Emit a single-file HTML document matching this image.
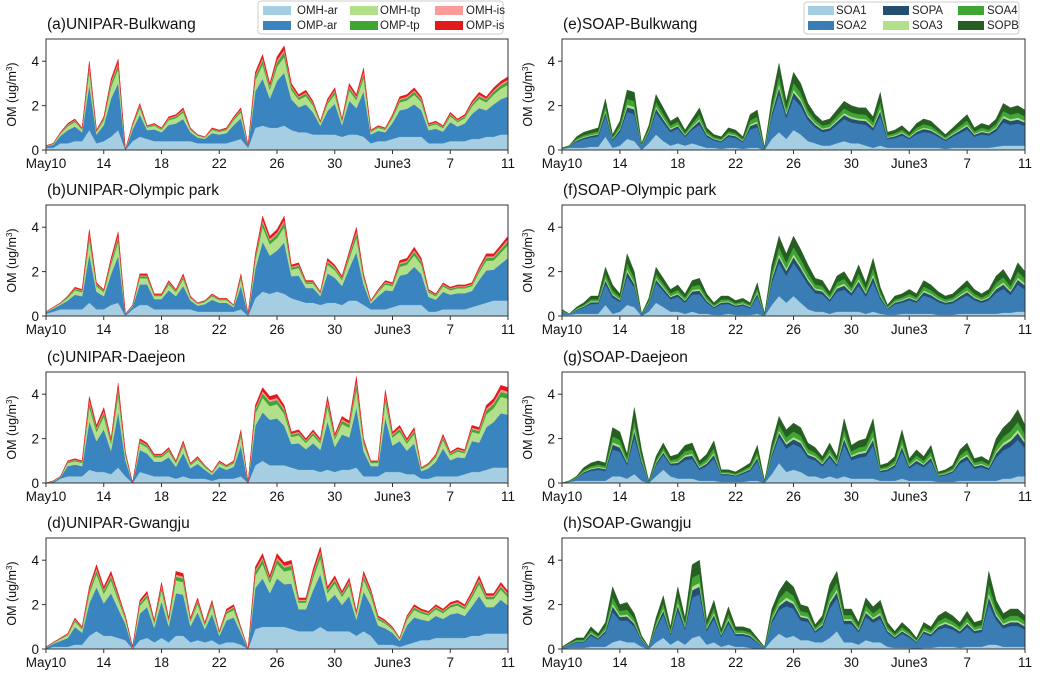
<!DOCTYPE html>
<html><head><meta charset="utf-8">
<style>
html,body{margin:0;padding:0;background:#fff;}
svg{display:block;font-family:"Liberation Sans",sans-serif;}
</style></head>
<body>
<svg id="fig" width="1045" height="683" viewBox="0 0 1045 683" xmlns="http://www.w3.org/2000/svg">
<g>
<rect x="258" y="1" width="245" height="33" rx="3" fill="#fff" stroke="#ccc"/>
<rect x="263" y="6" width="28" height="9" fill="#a6cee3"/><text x="297" y="14" font-size="11.5" fill="#222">OMH-ar</text>
<rect x="263" y="21" width="28" height="9" fill="#3a85bf"/><text x="297" y="29" font-size="11.5" fill="#222">OMP-ar</text>
<rect x="350" y="6" width="28" height="9" fill="#b2df8a"/><text x="380" y="14" font-size="11.5" fill="#222">OMH-tp</text>
<rect x="350" y="21" width="28" height="9" fill="#3fa535"/><text x="380" y="29" font-size="11.5" fill="#222">OMP-tp</text>
<rect x="435" y="6" width="28" height="9" fill="#fb9a99"/><text x="466" y="14" font-size="11.5" fill="#222">OMH-is</text>
<rect x="435" y="21" width="28" height="9" fill="#e31a1c"/><text x="466" y="29" font-size="11.5" fill="#222">OMP-is</text>
</g>
<g>
<rect x="804" y="2" width="215" height="32" rx="3" fill="#fff" stroke="#ccc"/>
<rect x="808" y="6" width="26" height="9" fill="#a6cee3"/><text x="836" y="14" font-size="11.5" fill="#222">SOA1</text>
<rect x="808" y="21" width="26" height="9" fill="#3a7db5"/><text x="836" y="29" font-size="11.5" fill="#222">SOA2</text>
<rect x="883" y="6" width="26" height="9" fill="#244f73"/><text x="912" y="14" font-size="11.5" fill="#222">SOPA</text>
<rect x="883" y="21" width="26" height="9" fill="#b2df8a"/><text x="912" y="29" font-size="11.5" fill="#222">SOA3</text>
<rect x="958" y="6" width="26" height="9" fill="#3fa535"/><text x="987" y="14" font-size="11.5" fill="#222">SOA4</text>
<rect x="958" y="21" width="26" height="9" fill="#275e22"/><text x="987" y="29" font-size="11.5" fill="#222">SOPB</text>
</g>
</svg>
<script>
// ---- data (values in ug/m3, half-day steps from May10 to June11) ----
const tickLabels = ["May10","14","18","22","26","30","June3","7","11"];
const tickDays = [0,4,8,12,16,20,24,28,32];
const yTicks = [0,2,4];
const titles = ["(a)UNIPAR-Bulkwang","(b)UNIPAR-Olympic park","(c)UNIPAR-Daejeon","(d)UNIPAR-Gwangju","(e)SOAP-Bulkwang","(f)SOAP-Olympic park","(g)SOAP-Daejeon","(h)SOAP-Gwangju"];
const uniparSeries = ["OMH-ar","OMP-ar","OMH-tp","OMP-tp","OMH-is","OMP-is"];
const soapSeries = ["SOA1","SOA2","SOPA","SOA3","SOA4","SOPB"];
const uniparShares = [0.66,0.2,0.06,0.03,0.05];
const soapShares = [0.55,0.1,0.05,0.12,0.18];
const totalA = [0.2,0.3,0.8,1.2,1.4,1.0,4.0,0.9,1.5,3.2,4.1,0.0,1.2,2.1,1.1,1.2,1.0,1.5,1.6,1.9,1.0,0.7,0.6,1.0,0.9,1.0,1.5,1.9,0.2,3.5,4.3,3.0,4.2,4.7,3.0,2.5,2.7,2.2,1.3,2.3,2.8,1.4,3.0,2.5,3.7,0.9,1.1,1.0,1.6,2.4,2.5,2.8,2.4,1.2,1.3,1.1,1.7,1.4,1.6,2.2,2.6,2.4,2.8,3.1,3.3];
const baseA = [0.1,0.1,0.3,0.3,0.4,0.4,0.9,0.3,0.4,0.6,0.9,0.0,0.4,0.6,0.5,0.4,0.4,0.4,0.4,0.4,0.4,0.3,0.3,0.3,0.3,0.3,0.4,0.5,0.1,1.0,1.1,1.0,1.0,1.1,0.9,0.8,0.8,0.7,0.7,0.7,0.7,0.6,0.7,0.7,0.6,0.3,0.4,0.4,0.5,0.6,0.6,0.6,0.6,0.3,0.3,0.3,0.4,0.4,0.4,0.5,0.5,0.6,0.6,0.7,0.7];
const totalB = [0.2,0.4,0.6,0.9,1.3,1.2,3.9,1.5,1.2,2.6,3.8,0.1,0.5,1.9,1.9,1.0,1.0,1.6,1.2,1.9,0.9,0.6,0.7,1.0,0.8,0.8,0.5,1.9,0.1,2.8,4.5,3.6,3.9,4.5,2.3,2.4,1.6,1.6,1.1,2.6,2.3,1.8,2.9,4.0,1.9,0.7,1.2,1.6,1.5,2.5,2.6,3.1,2.6,1.2,1.0,1.5,1.3,1.4,1.4,1.5,2.2,2.8,2.8,3.2,3.6];
const baseB = [0.1,0.2,0.3,0.3,0.3,0.3,0.6,0.3,0.3,0.5,0.6,0.0,0.3,0.5,0.5,0.3,0.3,0.3,0.3,0.3,0.3,0.2,0.2,0.2,0.2,0.2,0.2,0.3,0.0,0.8,1.1,1.0,1.1,1.0,0.8,0.7,0.6,0.6,0.5,0.6,0.6,0.5,0.7,0.7,0.5,0.3,0.3,0.3,0.4,0.5,0.5,0.5,0.5,0.2,0.2,0.3,0.3,0.3,0.3,0.4,0.5,0.6,0.7,0.7,0.7];
const totalC = [0.0,0.1,0.3,1.0,1.1,1.0,3.9,2.6,3.4,2.0,4.5,1.4,0.0,2.0,1.8,1.3,1.3,1.6,1.0,1.9,0.9,1.2,0.8,0.5,1.0,0.8,1.0,2.4,0.0,3.5,4.3,3.9,4.0,3.5,2.3,2.4,2.0,2.4,2.0,3.9,2.2,3.0,2.8,4.8,2.0,1.0,1.0,4.2,2.3,2.6,2.0,2.5,0.7,0.9,1.3,2.2,1.4,1.6,1.5,2.6,2.5,3.5,3.8,4.4,4.3];
const baseC = [0.0,0.0,0.2,0.3,0.3,0.3,0.6,0.5,0.5,0.4,0.7,0.3,0.0,0.5,0.4,0.3,0.3,0.3,0.2,0.3,0.2,0.2,0.2,0.1,0.2,0.2,0.2,0.3,0.0,0.8,1.0,0.8,0.8,0.8,0.7,0.6,0.6,0.6,0.5,0.6,0.5,0.6,0.6,0.7,0.3,0.3,0.3,0.5,0.5,0.5,0.4,0.4,0.2,0.2,0.3,0.3,0.3,0.3,0.4,0.5,0.5,0.6,0.7,0.7,0.7];
const totalD = [0.1,0.3,0.5,0.7,1.4,1.0,2.8,3.8,2.8,3.5,2.5,1.5,0.1,2.2,2.6,1.3,3.0,1.4,3.5,3.4,1.4,2.3,1.2,2.2,0.8,1.8,2.0,1.0,0.0,3.7,4.3,3.3,4.3,3.9,4.0,2.3,2.3,3.6,4.6,2.8,3.3,2.6,3.2,1.7,3.5,2.7,1.5,1.3,1.0,0.5,1.5,2.0,1.8,1.7,2.0,1.8,2.1,2.2,2.0,2.6,3.3,2.5,2.5,3.0,2.6];
const baseD = [0.0,0.1,0.1,0.1,0.2,0.2,0.6,0.8,0.6,0.6,0.5,0.4,0.0,0.4,0.5,0.3,0.5,0.3,0.6,0.6,0.3,0.4,0.3,0.4,0.2,0.3,0.3,0.2,0.0,0.9,1.0,1.0,1.0,1.0,0.9,0.8,0.8,0.8,1.0,0.8,0.8,0.8,0.8,0.6,0.8,0.6,0.2,0.2,0.2,0.1,0.2,0.3,0.4,0.4,0.5,0.5,0.5,0.5,0.5,0.6,0.6,0.7,0.7,0.7,0.7];
const totalE = [0.1,0.2,0.6,0.8,0.9,1.0,2.3,0.7,1.3,2.7,2.6,0.3,1.1,2.5,1.9,1.3,1.5,0.9,1.4,1.9,1.0,0.7,0.6,1.0,0.9,0.6,1.6,1.8,0.1,2.3,3.9,2.2,3.5,3.0,2.1,1.6,1.3,1.4,1.8,2.2,2.0,1.9,1.9,1.5,2.6,0.8,0.9,1.1,0.8,1.2,1.4,1.3,1.0,0.7,1.0,1.3,1.6,1.0,1.2,1.1,1.4,2.1,1.9,2.0,1.8];
const baseE = [0.05,0.1,0.1,0.1,0.15,0.15,0.6,0.1,0.2,0.5,0.4,0.0,0.3,0.7,0.4,0.2,0.3,0.2,0.3,0.2,0.1,0.1,0.05,0.1,0.1,0.05,0.1,0.1,0.0,0.5,0.8,0.5,0.9,0.7,0.4,0.3,0.2,0.2,0.3,0.4,0.3,0.3,0.2,0.1,0.2,0.1,0.1,0.1,0.1,0.1,0.1,0.1,0.1,0.05,0.1,0.1,0.1,0.1,0.1,0.1,0.15,0.2,0.2,0.2,0.2];
const totalF = [0.3,0.1,0.4,0.6,0.9,0.9,2.2,1.4,1.0,2.8,2.0,0.1,0.8,2.2,1.7,1.2,1.4,1.0,1.6,1.7,1.0,0.6,0.9,0.9,0.7,0.8,0.6,1.5,0.1,2.3,3.6,2.8,3.6,3.0,2.3,1.7,1.6,1.1,1.8,2.0,1.5,2.3,1.5,2.6,1.3,0.5,0.9,1.0,1.2,1.0,1.6,1.4,1.1,0.9,1.0,1.3,1.6,1.2,1.0,1.2,1.8,2.1,1.6,2.4,2.0];
const baseF = [0.05,0.05,0.1,0.1,0.1,0.1,0.5,0.1,0.2,0.5,0.4,0.0,0.2,0.6,0.4,0.2,0.2,0.1,0.2,0.1,0.1,0.05,0.05,0.1,0.05,0.05,0.05,0.1,0.0,0.5,0.9,0.6,0.9,0.6,0.3,0.2,0.2,0.1,0.2,0.2,0.2,0.2,0.1,0.2,0.1,0.05,0.05,0.1,0.1,0.1,0.1,0.1,0.05,0.05,0.05,0.1,0.1,0.1,0.1,0.1,0.1,0.15,0.15,0.2,0.2];
const totalG = [0.0,0.1,0.3,0.7,0.9,1.0,0.9,2.5,2.3,1.3,3.4,1.5,0.1,1.2,1.8,1.2,1.3,1.7,1.8,1.0,1.3,1.9,0.6,0.6,0.5,0.7,0.9,1.7,0.1,1.8,3.0,2.4,2.7,2.5,1.8,1.6,1.2,1.8,1.2,2.9,1.7,1.9,2.0,2.9,0.8,0.9,1.2,2.4,1.1,1.5,1.2,1.7,0.5,0.6,0.8,1.5,1.8,1.1,1.2,1.0,2.0,2.5,2.8,3.3,2.6];
const baseG = [0.0,0.05,0.1,0.1,0.1,0.1,0.1,0.3,0.3,0.2,0.4,0.1,0.0,0.3,0.6,0.3,0.2,0.2,0.2,0.1,0.1,0.1,0.05,0.05,0.05,0.05,0.1,0.1,0.0,0.4,0.9,0.5,0.6,0.5,0.3,0.3,0.2,0.3,0.2,0.3,0.2,0.2,0.2,0.2,0.1,0.1,0.1,0.2,0.1,0.1,0.1,0.1,0.05,0.05,0.05,0.1,0.1,0.1,0.1,0.1,0.1,0.2,0.2,0.3,0.3];
const totalH = [0.1,0.3,0.5,0.5,1.0,0.7,1.2,2.8,2.0,2.1,1.6,0.6,0.1,1.4,2.4,1.0,2.8,1.4,3.8,4.0,1.3,2.2,0.9,1.9,1.0,1.0,0.9,0.5,0.1,1.8,2.6,3.1,2.8,2.0,1.9,1.1,1.5,2.9,3.5,1.8,1.8,1.2,2.3,1.9,2.2,1.2,0.8,1.2,0.9,0.5,1.2,1.0,1.5,1.7,1.5,1.2,1.7,1.2,1.3,3.5,2.2,1.6,1.8,1.8,1.5];
const baseH = [0.0,0.05,0.05,0.05,0.1,0.1,0.1,0.3,0.4,0.3,0.3,0.1,0.0,0.3,0.5,0.2,0.4,0.2,0.5,0.6,0.2,0.3,0.1,0.2,0.1,0.1,0.05,0.0,0.0,0.4,0.7,0.5,0.6,0.4,0.4,0.3,0.3,0.5,0.8,0.3,0.3,0.2,0.4,0.3,0.3,0.1,0.05,0.05,0.05,0.0,0.05,0.05,0.1,0.1,0.1,0.05,0.1,0.1,0.1,0.2,0.2,0.1,0.1,0.1,0.1];

const totals = [totalA,totalB,totalC,totalD,totalE,totalF,totalG,totalH];
const bases = [baseA,baseB,baseC,baseD,baseE,baseF,baseG,baseH];
const uniparColors = ["#a6cee3","#3a85bf","#b2df8a","#3fa535","#fb9a99","#e31a1c"];
const soapColors = ["#a6cee3","#3a7db5","#244f73","#b2df8a","#3fa535","#275e22"];

const NS = "http://www.w3.org/2000/svg";
const svg = document.getElementById("fig");
function mk(tag, attrs, parent){const e=document.createElementNS(NS,tag);for(const k in attrs)e.setAttribute(k,attrs[k]);parent.appendChild(e);return e;}
const rowTops = [39,205,372,538];
const colLeft = [46,562], colRight = [508,1025];
const plotH = 111, yMax = 5, dayMax = 32;

for(let p=0;p<8;p++){
  const col = p<4?0:1, row = p%4;
  const x0 = colLeft[col], x1 = colRight[col], top = rowTops[row], bot = top+plotH;
  const xs = d => x0 + d/dayMax*(x1-x0);
  const ys = v => bot - v/yMax*plotH;
  const g = mk("g",{},svg);
  
  
  const t = mk("text",{x:x0+1,y:top-10,"font-size":15.5,fill:"#111"},g);
  t.textContent = titles[p];
  
  
  const tot = totals[p], base = bases[p], n = tot.length;
  const names = col===0?uniparSeries:soapSeries;
  const colors = col===0?uniparColors:soapColors;
  const shares = col===0?uniparShares:soapShares;
  const layers = [];
  const b0 = tot.map((v,i)=>Math.min(v, base[Math.round(i*(base.length-1)/(n-1))]));
  layers.push(b0);
  shares.forEach(s=>layers.push(tot.map((v,i)=>(v-b0[i])*s)));
  let lower = new Array(n).fill(0);
  layers.forEach((lay,k)=>{
    const upper = lower.map((v,i)=>v+lay[i]);
    let d = "";
    for(let i=0;i<n;i++) d += (i?"L":"M")+xs(i*dayMax/(n-1)).toFixed(1)+","+ys(upper[i]).toFixed(1);
    for(let i=n-1;i>=0;i--) d += "L"+xs(i*dayMax/(n-1)).toFixed(1)+","+ys(lower[i]).toFixed(1);
    const path = mk("path",{d:d+"Z",fill:colors[k],stroke:colors[k],"stroke-width":0.4},g);
    
    
    lower = upper;
  });
  const frame = mk("rect",{x:x0,y:top,width:x1-x0,height:plotH,fill:"none",stroke:"#333","stroke-width":1},g);
  
  
  yTicks.forEach(v=>{
    mk("line",{x1:x0-4,x2:x0,y1:ys(v),y2:ys(v),stroke:"#333"},g);
    const tl = mk("text",{x:x0-7,y:ys(v)+5,"font-size":13.5,"text-anchor":"end",fill:"#111"},g);
    tl.textContent = v;
    
    
  });
  tickDays.forEach((d,i)=>{
    mk("line",{x1:xs(d),x2:xs(d),y1:bot,y2:bot+4,stroke:"#333"},g);
    const tl = mk("text",{x:xs(d),y:bot+18,"font-size":13.5,"text-anchor":"middle",fill:"#111"},g);
    tl.textContent = tickLabels[i];
    
    
  });
  const yl = mk("text",{x:0,y:0,"font-size":12.5,"text-anchor":"middle",fill:"#111",transform:`translate(${x0-30},${top+plotH/2}) rotate(-90)`},g);
  yl.innerHTML = 'OM (ug/m<tspan dy="-4" font-size="8">3</tspan><tspan dy="4">)</tspan>';
  
  
}
</script>
</body></html>
